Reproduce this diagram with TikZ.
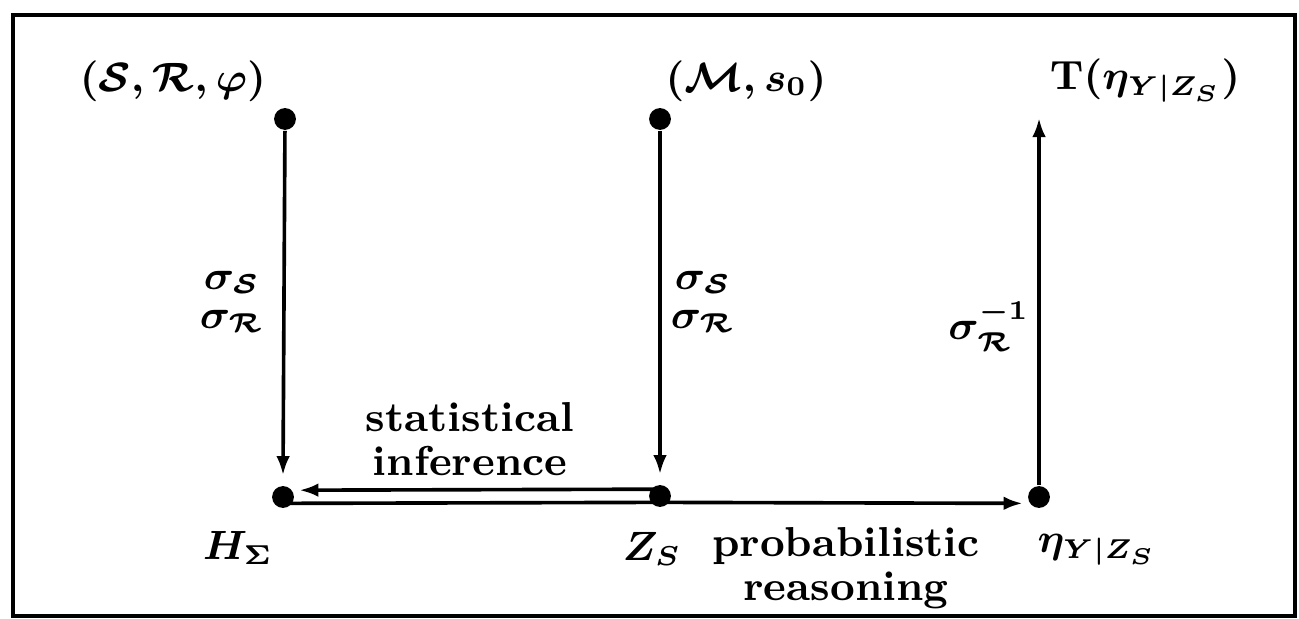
\documentclass[tikz,border=0pt]{standalone}
\usetikzlibrary{arrows.meta}
\begin{document}
\begin{tikzpicture}[x=0.22pt,y=-0.22pt,
  dot/.style={circle,fill=black,inner sep=0pt,minimum size=4.8pt},
  lbl/.style={inner sep=0pt,font=\fontsize{9.2}{9.6}\selectfont\bfseries\boldmath},
  conn/.style={line width=0.8pt},
  arr/.style={conn,-{Latex[length=4.2pt,width=3pt]}}]
\useasboundingbox (0,0) rectangle (1299,619);
\draw[line width=0.9pt] (13,15) rectangle (1295,616);
\node[dot] (a) at (285,119) {};
\node[dot] (m) at (660,119) {};
\node[dot] (h) at (283,497) {};
\node[dot] (z) at (660,496) {};
\node[dot] (e) at (1039,497) {};
\coordinate (t) at (1039,118);
\node[lbl] (la) at (173,81) {$(\mathcal{S},\mathcal{R},\varphi)$};
\node[lbl] (lm) at (746,81) {$(\mathcal{M},s_0)$};
\node[lbl] (lt) at (1145,81) {$\mathbf{T}(\eta_{Y|Z_S})$};
\node[lbl] (lh) at (238,548) {$H_\Sigma$};
\node[lbl] (lz) at (652,549) {$Z_S$};
\node[lbl] (le) at (1097,550) {$\eta_{Y|Z_S}$};
\node[lbl,align=center] (s1) at (232,302) {$\sigma_{\mathcal{S}}$\\[-1pt]$\sigma_{\mathcal{R}}$};
\node[lbl,align=center] (s2) at (703,302) {$\sigma_{\mathcal{S}}$\\[-1pt]$\sigma_{\mathcal{R}}$};
\node[lbl] (s3) at (989,326) {$\sigma_{\mathcal{R}}^{-1}$};
\node[lbl,align=center] (si) at (470,439) {statistical\\inference};
\node[lbl,align=center] (pr) at (846,568) {probabilistic\\reasoning};
\draw[arr] (a) -- ([yshift=2.2pt]h.north);
\draw[arr] (m) -- ([yshift=2.2pt]z.north);
\draw[arr] (e) -- (t);
\draw[arr] ([yshift=1.5pt]z.center) -- ([yshift=1.5pt,xshift=1pt]h.east);
\draw[conn] ([yshift=-1.4pt]h.center) -- ([yshift=-1.4pt]z.center);
\draw[arr] ([yshift=-1.4pt]z.center) -- ([yshift=-1.4pt,xshift=-1pt]e.west);
\end{tikzpicture}
\end{document}
